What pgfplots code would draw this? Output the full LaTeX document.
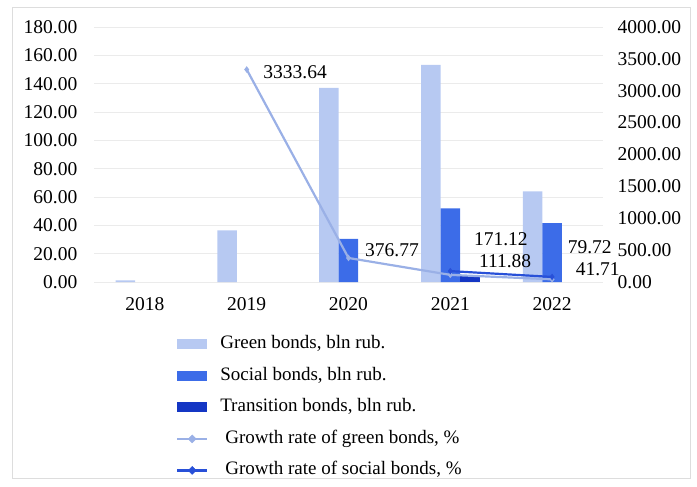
\documentclass[border=0pt]{standalone}
\usepackage{fontspec}
\setmainfont{Liberation Serif}
\usepackage{pgfplots}
\pgfplotsset{compat=1.18}
\definecolor{cgreen}{HTML}{B7C9F2}
\definecolor{csocial}{HTML}{3C6CE8}
\definecolor{ctrans}{HTML}{1436C4}
\definecolor{lgreen}{HTML}{9AB0E6}
\definecolor{lsocial}{HTML}{2850D8}
\definecolor{cgrid}{HTML}{EBEBEB}
\definecolor{cborder}{HTML}{DDDDDD}
\pgfplotsset{
 common/.style={
  at={(94pt,-282pt)}, anchor=south west,
  scale only axis, width=509pt, height=255pt,
  xmin=-0.5, xmax=4.5,
  major tick length=0pt,
  axis line style={draw=none},
  /pgf/number format/fixed,
  /pgf/number format/fixed zerofill,
  /pgf/number format/precision=2,
  /pgf/number format/1000 sep={},
  /pgf/number format/assume math mode=true,
  tick label style={font=\fontsize{19.5}{23}\selectfont},
 }
}
\begin{document}
\fontsize{19.5}{23}\selectfont
\begin{tikzpicture}
\useasboundingbox (0pt,0pt) rectangle (697pt,-487pt);
\draw[cborder, line width=1pt] (12pt,-8pt) rectangle (690pt,-478pt);
\begin{axis}[common,
  ymin=0, ymax=180, ytick={0,20,...,180},
  ymajorgrids, grid style={cgrid, line width=0.8pt},
  xtick={0,1,2,3,4}, xticklabels={2018,2019,2020,2021,2022},
  xticklabel style={yshift=-9pt},
  yticklabel style={xshift=-10pt},
  legend style={at={(0.155,-0.195)}, anchor=north west, draw=none, fill=none,
    font=\fontsize{19}{23}\selectfont, row sep=10.5pt,
    nodes={text height=13pt, text depth=4pt, inner sep=2pt},
    /tikz/every odd column/.append style={column sep=10pt}},
  legend cell align=left,
]
\addplot[ybar, bar width=19.5pt, bar shift=-19.5pt, fill=cgreen, draw=none,
  legend image code/.code={\fill[cgreen] (0pt,-5pt) rectangle (30pt,5pt);}]
  coordinates {(0,1.09) (1,36.4) (2,137.0) (3,153.3) (4,63.9)};
\addlegendentry{Green bonds, bln rub.}
\addplot[ybar, bar width=19.5pt, bar shift=0pt, fill=csocial, draw=none,
  legend image code/.code={\fill[csocial] (0pt,-5pt) rectangle (30pt,5pt);}]
  coordinates {(2,30.4) (3,52.0) (4,41.5)};
\addlegendentry{Social bonds, bln rub.}
\addplot[ybar, bar width=19.5pt, bar shift=19.5pt, fill=ctrans, draw=none,
  legend image code/.code={\fill[ctrans] (0pt,-5pt) rectangle (30pt,5pt);}]
  coordinates {(3,4.0)};
\addlegendentry{Transition bonds, bln rub.}
\addlegendimage{legend image code/.code={\draw[lgreen, line width=2.2pt] (0pt,0pt) -- (30pt,0pt);
  \fill[lgreen] (11pt,0pt) -- (15pt,4pt) -- (19pt,0pt) -- (15pt,-4pt) -- cycle;}}
\addlegendentry{\hspace{5pt}Growth rate of green bonds, \%}
\addlegendimage{legend image code/.code={\draw[lsocial, line width=2.2pt] (0pt,0pt) -- (30pt,0pt);
  \fill[lsocial] (11pt,0pt) -- (15pt,4pt) -- (19pt,0pt) -- (15pt,-4pt) -- cycle;}}
\addlegendentry{\hspace{5pt}Growth rate of social bonds, \%}
\end{axis}
\begin{axis}[common,
  ymin=0, ymax=4000, ytick={0,500,...,4000},
  axis y line*=right, axis x line=none,
  xtick=\empty, clip=false,
  yticklabel style={xshift=8pt},
]
\addplot[lgreen, line width=2.2pt, mark=diamond*, mark size=1.5pt]
  coordinates {(1,3333.64) (2,376.77) (3,111.88) (4,41.71)};
\addplot[lsocial, line width=2.2pt, mark=diamond*, mark size=1.5pt]
  coordinates {(3,171.12) (4,79.72)};
\node[anchor=west, xshift=10pt, yshift=-3pt] at (axis cs:1,3333.64) {3333.64};
\node[anchor=west, xshift=10pt, yshift=8pt] at (axis cs:2,376.77) {376.77};
\node[anchor=west, xshift=17pt, yshift=32pt] at (axis cs:3,171.12) {171.12};
\node[anchor=west, xshift=22pt, yshift=14pt] at (axis cs:3,111.88) {111.88};
\node[anchor=west, xshift=9pt, yshift=30pt] at (axis cs:4,79.72) {79.72};
\node[anchor=west, xshift=17pt, yshift=10pt] at (axis cs:4,41.71) {41.71};
\end{axis}
\end{tikzpicture}
\end{document}
